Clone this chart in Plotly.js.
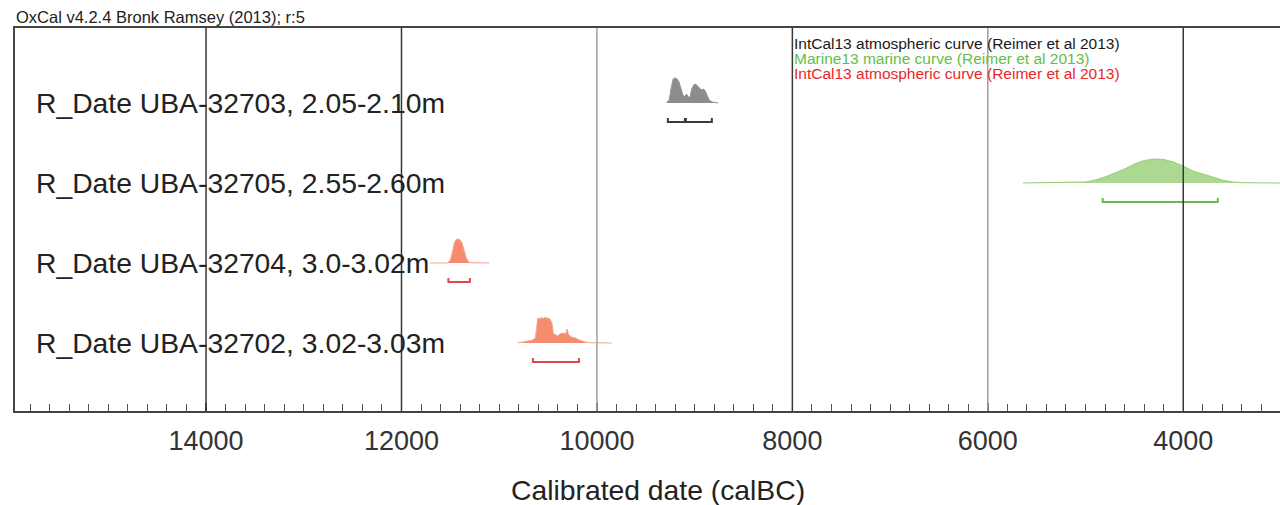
<!DOCTYPE html>
<html>
<head>
<meta charset="utf-8">
<script src="https://cdn.plot.ly/plotly-3.0.1.min.js"></script>
<style>html,body{margin:0;padding:0;background:#fff;}#chart{width:1280px;height:505px;}</style>
</head>
<body>
<div id="chart"></div>
<script>
// ---- Data ----
const sampleLabels = [
  "R_Date UBA-32703, 2.05-2.10m",
  "R_Date UBA-32705, 2.55-2.60m",
  "R_Date UBA-32704, 3.0-3.02m",
  "R_Date UBA-32702, 3.02-3.03m"
];
// calibrated years (calBC) and relative probability for each sample
const years32703 = [9290,9260,9240,9220,9200,9180,9160,9140,9120,9100,9085,9070,9050,9030,9010,8990,8970,8950,8930,8910,8890,8870,8850,8820,8780,8760];
const prob32703  = [0,3,15,24,25,24,21,13,8,6,9,7,5,14,18,19,17,14,13,14,12,7,3,1,0.3,0];
const years32705 = [5640,5100,5000,4900,4800,4700,4600,4500,4400,4300,4200,4100,4000,3900,3800,3700,3600,3500,3400,3010];
const prob32705  = [0,0.3,1,3,6,10,14,19,22.5,24,23.5,21,17,12,9,6,3,1,0.3,0];
const years32704 = [11710,11530,11500,11480,11460,11440,11420,11400,11380,11360,11340,11320,11300,11100];
const prob32704  = [0,0,3,10,20,23.5,24,23,20,13,6,2,0.3,0];
const years32702 = [10810,10780,10720,10660,10630,10615,10605,10590,10570,10550,10530,10510,10480,10460,10445,10420,10400,10380,10350,10320,10305,10290,10260,10220,10180,10120,10080,9850];
const prob32702  = [0,0.5,1.5,3,5,20,25,24,25.5,24.5,25.5,25,24,20,9,8,7,9,10,9,14,8,6,5,3,1,0.3,0];
// 95.4% ranges
const ranges32703 = [[9274,9100],[9090,8824]];
const ranges32705 = [[4824,3647]];
const ranges32704 = [[11520,11300]];
const ranges32702 = [[10655,10184]];
const curveNames = [
  "IntCal13 atmospheric curve (Reimer et al 2013)",
  "Marine13 marine curve (Reimer et al 2013)",
  "IntCal13 atmospheric curve (Reimer et al 2013)"
];
const gridDark = [14000,12000,8000,4000];
const gridLight = [10000,6000];

// ---- Styling ----
const rows = [
  {years: years32703, prob: prob32703, ranges: ranges32703, fill: "rgb(140,140,140)", line: "rgb(150,150,150)", bracket: "rgb(60,60,60)"},
  {years: years32705, prob: prob32705, ranges: ranges32705, fill: "rgb(172,216,146)", line: "rgb(150,205,120)", bracket: "rgb(110,180,80)"},
  {years: years32704, prob: prob32704, ranges: ranges32704, fill: "rgb(246,140,110)", line: "rgb(244,165,150)", bracket: "rgb(225,70,80)"},
  {years: years32702, prob: prob32702, ranges: ranges32702, fill: "rgb(246,140,110)", line: "rgb(244,165,150)", bracket: "rgb(225,70,80)"}
];
const scale = 0.0125, bracketOff = 0.2375, tickH = 0.05;
const traces = [];
rows.forEach((r, i) => {
  const base = 4 - i;
  traces.push({
    type: "scatter", mode: "lines", x: r.years, y: r.prob.map(p => base + p * scale),
    fill: "toself", fillcolor: r.fill, line: {color: r.line, width: 1}, hoverinfo: "skip", showlegend: false
  });
  r.ranges.forEach(rg => {
    const yb = base - bracketOff;
    traces.push({
      type: "scatter", mode: "lines", x: [rg[0], rg[0], rg[1], rg[1]], y: [yb + tickH, yb, yb, yb + tickH],
      line: {color: r.bracket, width: 2}, hoverinfo: "skip", showlegend: false
    });
  });
});

const shapes = [];
gridDark.forEach(v => shapes.push({type: "line", xref: "x", yref: "paper", x0: v, x1: v, y0: 0, y1: 1, line: {color: "rgb(55,55,55)", width: 1.5}, layer: "above"}));
gridLight.forEach(v => shapes.push({type: "line", xref: "x", yref: "paper", x0: v, x1: v, y0: 0, y1: 1, line: {color: "rgb(160,160,160)", width: 1.5}, layer: "above"}));

const font = "Liberation Sans, Arial, sans-serif";
const annotations = [];
sampleLabels.forEach((t, i) => annotations.push({
  text: t, xref: "paper", yref: "y", x: 0.015, y: 4 - i, xanchor: "left", yanchor: "middle",
  showarrow: false, font: {family: font, size: 28.3, color: "#222"}
}));
const curveColors = ["#1a1a1a", "rgb(100,190,70)", "rgb(230,40,40)"];
curveNames.forEach((t, i) => annotations.push({
  text: t, xref: "paper", yref: "paper", x: (792 - 15) / 1265, y: 1 - (15.5 + i * 15) / 383,
  xanchor: "left", yanchor: "middle", showarrow: false,
  font: {family: font, size: 15.5, color: curveColors[i]}
}));
annotations.push({
  text: "OxCal v4.2.4 Bronk Ramsey (2013); r:5", xref: "paper", yref: "paper", x: 0, y: 1,
  xanchor: "left", yanchor: "bottom", yshift: 0, xshift: -1, showarrow: false,
  font: {family: font, size: 16.5, color: "#222"}
});
annotations.push({
  text: "Calibrated date (calBC)", xref: "paper", yref: "paper", x: (658 - 15) / 1265, y: -(490 - 411) / 383,
  xanchor: "center", yanchor: "middle", showarrow: false,
  font: {family: font, size: 28.3, color: "#222"}
});

const layout = {
  width: 1280, height: 505,
  margin: {l: 15, r: 0, t: 28, b: 94},
  paper_bgcolor: "#fff", plot_bgcolor: "#fff",
  showlegend: false,
  xaxis: {
    range: [15955, 3010], autorange: false,
    tick0: 0, dtick: 2000, ticks: "inside", ticklen: 8, tickwidth: 1.5, tickcolor: "#444",
    minor: {dtick: 200, ticks: "inside", ticklen: 7, tickwidth: 1, tickcolor: "#555", showgrid: false},
    showgrid: false, zeroline: false,
    showline: true, linecolor: "#444", linewidth: 2, mirror: true,
    tickfont: {family: font, size: 27, color: "#333"},
    ticklabelstandoff: 5,
    separatethousands: false, tickformat: "d"
  },
  yaxis: {
    range: [0.15, 4.9375], autorange: false,
    showticklabels: false, ticks: "", showgrid: false, zeroline: false,
    showline: true, linecolor: "#444", linewidth: 2
  },
  shapes: shapes,
  annotations: annotations
};
Plotly.newPlot("chart", traces, layout, {staticPlot: true, displayModeBar: false});
</script>
</body>
</html>
